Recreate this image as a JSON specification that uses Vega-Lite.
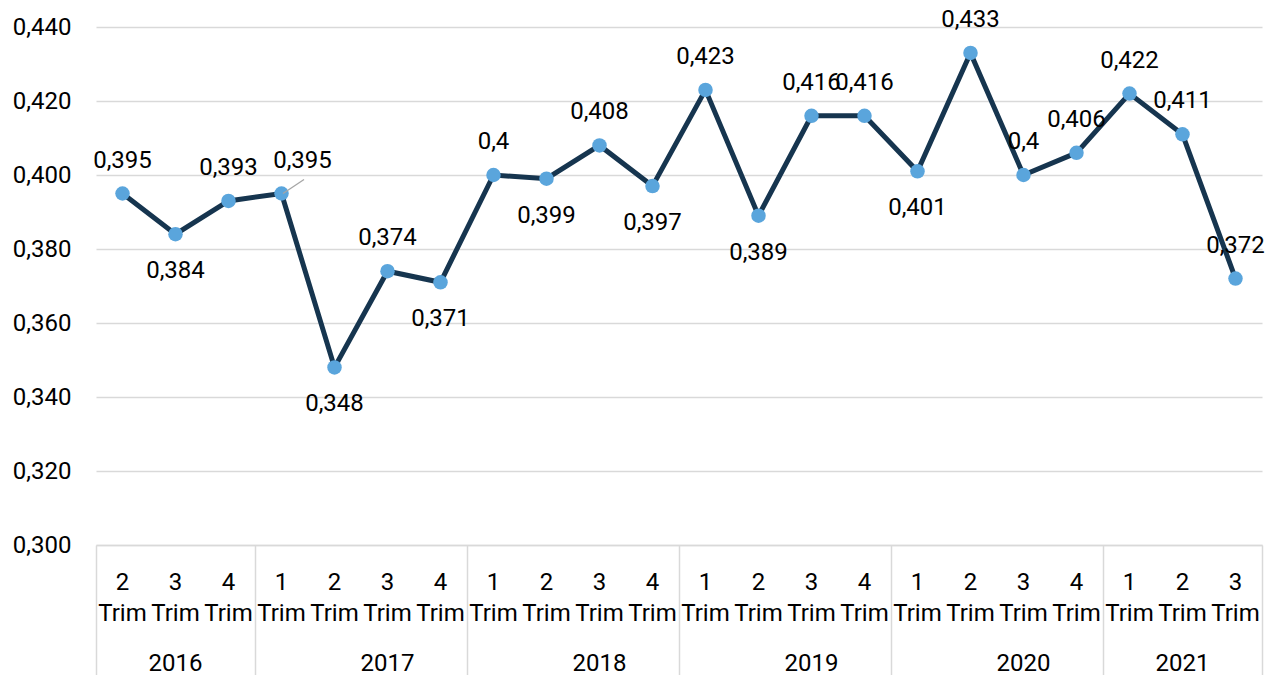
{
  "$schema": "https://vega.github.io/schema/vega-lite/v6.json",
  "width": 1166,
  "height": 518,
  "autosize": {"type": "none"},
  "padding": {"left": 96, "top": 27, "right": 18, "bottom": 130},
  "config": {
    "locale": {"number": {"decimal": ",", "thousands": ".", "grouping": [3], "currency": ["", " €"]}},
    "view": {"stroke": null},
    "font": "Roboto",
    "axis": {"labelFont": "Roboto", "labelFontSize": 24, "labelColor": "#000000"}
  },
  "data": {
    "values": [
      {"key": "2016-2", "value": 0.395},
      {"key": "2016-3", "value": 0.384},
      {"key": "2016-4", "value": 0.393},
      {"key": "2017-1", "value": 0.395},
      {"key": "2017-2", "value": 0.348},
      {"key": "2017-3", "value": 0.374},
      {"key": "2017-4", "value": 0.371},
      {"key": "2018-1", "value": 0.4},
      {"key": "2018-2", "value": 0.399},
      {"key": "2018-3", "value": 0.408},
      {"key": "2018-4", "value": 0.397},
      {"key": "2019-1", "value": 0.423},
      {"key": "2019-2", "value": 0.389},
      {"key": "2019-3", "value": 0.416},
      {"key": "2019-4", "value": 0.416},
      {"key": "2020-1", "value": 0.401},
      {"key": "2020-2", "value": 0.433},
      {"key": "2020-3", "value": 0.4},
      {"key": "2020-4", "value": 0.406},
      {"key": "2021-1", "value": 0.422},
      {"key": "2021-2", "value": 0.411},
      {"key": "2021-3", "value": 0.372}
    ]
  },
  "encoding": {
    "y": {
      "field": "value",
      "type": "quantitative",
      "title": null,
      "scale": {"domain": [0.3, 0.44], "nice": false, "zero": false},
      "axis": {
        "values": [0.3, 0.32, 0.34, 0.36, 0.38, 0.4, 0.42, 0.44],
        "format": ".3f",
        "ticks": false,
        "domain": false,
        "labelPadding": 25,
        "gridColor": "#d9d9d9",
        "gridWidth": 1.5
      }
    }
  },
  "layer": [
    {
      "mark": {"type": "line", "color": "#16354f", "strokeWidth": 5},
      "encoding": {
        "x": {
          "field": "key",
          "type": "nominal",
          "title": null,
          "scale": {"type": "band", "paddingInner": 0, "paddingOuter": 0},
          "axis": {
            "orient": "bottom",
            "labelExpr": "[substring(datum.label, 5, 6), 'Trim']",
            "labelAngle": 0,
            "labelLineHeight": 31,
            "labelPadding": 25,
            "ticks": false,
            "tickSize": 0,
            "domain": true,
            "domainColor": "#d9d9d9",
            "domainWidth": 1.5,
            "grid": false
          }
        }
      }
    },
    {
      "mark": {"type": "point", "filled": true, "size": 210, "color": "#5aa5dc", "opacity": 1},
      "encoding": {
        "x": {
          "field": "key",
          "type": "nominal",
          "title": null,
          "axis": {
            "orient": "bottom",
            "values": ["2016-2", "2017-1", "2018-1", "2019-1", "2020-1", "2021-1"],
            "bandPosition": 0,
            "labels": false,
            "domain": false,
            "grid": false,
            "ticks": true,
            "tickSize": 130,
            "tickColor": "#d9d9d9",
            "tickWidth": 1.5
          }
        }
      }
    },
    {
      "transform": [{"filter": {"not": {"field": "key", "oneOf": ["2016-3", "2017-1", "2017-2", "2017-4", "2018-2", "2018-4", "2019-2", "2020-1"]}}}],
      "mark": {"type": "text", "fontSize": 24, "font": "Roboto", "color": "#000000", "baseline": "alphabetic", "dy": -26},
      "encoding": {
        "x": {
          "field": "key",
          "type": "nominal",
          "title": null,
          "axis": {
            "orient": "bottom",
            "values": ["2021-3"],
            "bandPosition": 1,
            "labels": false,
            "domain": false,
            "grid": false,
            "ticks": true,
            "tickSize": 130,
            "tickColor": "#d9d9d9",
            "tickWidth": 1.5
          }
        },
        "text": {"field": "value", "type": "quantitative", "format": ".3~f"}
      }
    },
    {
      "transform": [{"filter": {"field": "key", "oneOf": ["2016-3", "2017-2", "2017-4", "2018-2", "2018-4", "2019-2", "2020-1"]}}],
      "mark": {"type": "text", "fontSize": 24, "font": "Roboto", "color": "#000000", "baseline": "alphabetic", "dy": 44},
      "encoding": {
        "x": {
          "field": "key",
          "type": "nominal",
          "title": null,
          "axis": {
            "orient": "bottom",
            "values": ["2017-3", "2018-3", "2019-3", "2020-3"],
            "bandPosition": 0,
            "labelExpr": "substring(datum.label, 0, 4)",
            "labelAngle": 0,
            "labelPadding": 106,
            "ticks": false,
            "tickSize": 0,
            "domain": false,
            "grid": false
          }
        },
        "text": {"field": "value", "type": "quantitative", "format": ".3~f"}
      }
    },
    {
      "transform": [{"filter": {"field": "key", "equal": "2017-1"}}],
      "mark": {"type": "text", "fontSize": 24, "font": "Roboto", "color": "#000000", "baseline": "alphabetic", "dy": -26, "dx": 21},
      "encoding": {
        "x": {
          "field": "key",
          "type": "nominal",
          "title": null,
          "axis": {
            "orient": "bottom",
            "values": ["2016-3", "2021-2"],
            "bandPosition": 0.5,
            "labelExpr": "substring(datum.label, 0, 4)",
            "labelAngle": 0,
            "labelPadding": 106,
            "ticks": false,
            "tickSize": 0,
            "domain": false,
            "grid": false
          }
        },
        "text": {"field": "value", "type": "quantitative", "format": ".3~f"}
      }
    },
    {
      "transform": [{"filter": {"field": "key", "equal": "2017-1"}}],
      "mark": {"type": "point", "shape": "M-1,0.67L1,-0.67", "filled": false, "stroke": "#a6a6a6", "strokeWidth": 1.3, "size": 441, "xOffset": 12, "yOffset": -7, "opacity": 1},
      "encoding": {
        "x": {"field": "key", "type": "nominal", "title": null, "axis": null}
      }
    }
  ],
  "resolve": {"axis": {"x": "independent"}}
}
